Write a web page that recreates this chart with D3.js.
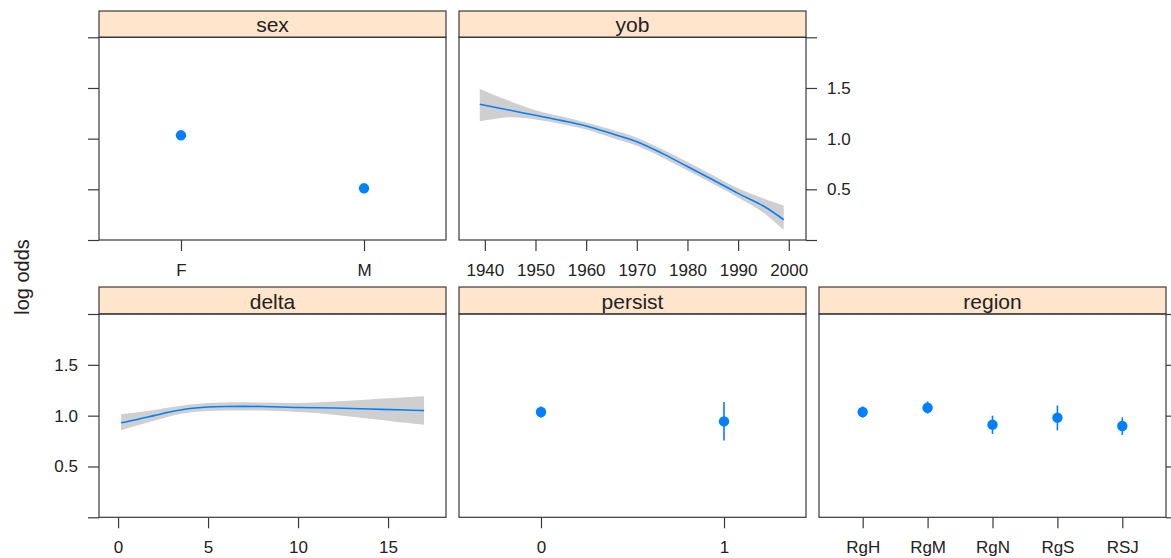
<!DOCTYPE html>
<html>
<head>
<meta charset="utf-8">
<script src="https://cdn.jsdelivr.net/npm/d3@7"></script>
<style>
  body { margin: 0; background: #fff; }
  text { font-family: "Liberation Sans", Arial, sans-serif; fill: #222; }
</style>
</head>
<body>
<svg id="chart" width="1171" height="558"></svg>
<script>
/******************************** DATA ********************************/
const yTicks = [0, 0.5, 1, 1.5, 2]
const yLabelled = [0.5, 1, 1.5]

const sexLevels = ['F', 'M']
const sexFit = [1.033, 0.51]
const sexLower = [1.00, 0.48]
const sexUpper = [1.065, 0.54]

const yobYears = [1939, 1945, 1950, 1955, 1960, 1965, 1970, 1975, 1980, 1985, 1990, 1995, 1999]
const yobFit = [1.34, 1.28, 1.23, 1.18, 1.125, 1.05, 0.97, 0.855, 0.725, 0.595, 0.46, 0.335, 0.20]
const yobLower = [1.17, 1.21, 1.19, 1.145, 1.09, 1.01, 0.93, 0.815, 0.685, 0.555, 0.42, 0.27, 0.10]
const yobUpper = [1.49, 1.37, 1.28, 1.22, 1.16, 1.09, 1.01, 0.895, 0.77, 0.64, 0.51, 0.41, 0.34]
const yobTicks = [1940, 1950, 1960, 1970, 1980, 1990, 2000]

const deltaX = [0.17, 1, 2, 3, 4, 5, 6, 8, 10, 12, 14, 16, 17]
const deltaFit = [0.93, 0.96, 1.00, 1.04, 1.07, 1.085, 1.09, 1.09, 1.08, 1.075, 1.065, 1.055, 1.05]
const deltaLower = [0.855, 0.90, 0.95, 1.00, 1.03, 1.045, 1.05, 1.05, 1.035, 1.01, 0.97, 0.93, 0.91]
const deltaUpper = [1.015, 1.03, 1.055, 1.085, 1.11, 1.125, 1.13, 1.13, 1.125, 1.14, 1.16, 1.18, 1.19]
const deltaTicks = [0, 5, 10, 15]

const persistLevels = ['0', '1']
const persistFit = [1.036, 0.943]
const persistLower = [0.98, 0.756]
const persistUpper = [1.09, 1.135]

const regionLevels = ['RgH', 'RgM', 'RgN', 'RgS', 'RSJ']
const regionFit = [1.036, 1.078, 0.911, 0.98, 0.898]
const regionLower = [0.98, 1.02, 0.82, 0.855, 0.81]
const regionUpper = [1.09, 1.14, 1.00, 1.10, 0.983]

/******************************** LAYOUT ********************************/
const cols = [[99, 446], [459, 806], [819, 1166]]
const rows = [
  { strip: 11, top: 37.3, bottom: 240 },
  { strip: 287, top: 314, bottom: 517.3 }
]
const tickLen = 11
const blue = '#0080ff'
const band = '#cfcfcf'
const frame = '#3a3a3a'

const svg = d3.select('#chart')

/**
 * Zips parallel arrays into rows for the line and area generators.
 */
function zipRows (xs, fit, lo, hi) {
  return xs.map((x, i) => ({ x: x, fit: fit[i], lo: lo[i], hi: hi[i] }))
}

/**
 * Draws one panel: strip, frame, axes, and the marks handed over in spec.
 */
function drawPanel (spec) {
  const [x0, x1] = cols[spec.col]
  const r = rows[spec.row]
  const y = d3.scaleLinear().domain([0, 2]).range([r.bottom, r.top])
  const g = svg.append('g').attr('class', 'panel')

  // strip
  g.append('rect')
    .attr('x', x0).attr('y', r.strip)
    .attr('width', x1 - x0).attr('height', r.top - r.strip)
    .attr('fill', '#ffe5cc').attr('stroke', frame).attr('stroke-width', 1.2)
  g.append('text')
    .attr('x', (x0 + x1) / 2).attr('y', r.top - 5)
    .attr('text-anchor', 'middle').attr('font-size', 21)
    .text(spec.title)

  // marks
  spec.draw(g, y, x0, x1)

  // frame
  g.append('rect')
    .attr('x', x0).attr('y', r.top)
    .attr('width', x1 - x0).attr('height', r.bottom - r.top)
    .attr('fill', 'none').attr('stroke', frame).attr('stroke-width', 1.2)

  // x axis
  const xAxis = d3.axisBottom(spec.x).tickValues(spec.xTicks).tickSize(tickLen).tickPadding(13)
  if (spec.xFormat) xAxis.tickFormat(spec.xFormat)
  const xa = g.append('g').attr('transform', 'translate(0,' + r.bottom + ')').call(xAxis)
  styleAxis(xa)

  // y axes
  const yFmt = mode => d => mode === 'labels' && yLabelled.includes(d) ? d3.format('.1f')(d) : ''
  if (spec.left) {
    const la = g.append('g').attr('transform', 'translate(' + x0 + ',0)')
      .call(d3.axisLeft(y).tickValues(yTicks).tickSize(tickLen).tickPadding(10).tickFormat(yFmt(spec.left)))
    styleAxis(la)
  }
  if (spec.right) {
    const ra = g.append('g').attr('transform', 'translate(' + x1 + ',0)')
      .call(d3.axisRight(y).tickValues(yTicks).tickSize(tickLen).tickPadding(10).tickFormat(yFmt(spec.right)))
    styleAxis(ra)
  }
}

function styleAxis (axis) {
  axis.select('.domain').remove()
  axis.selectAll('line').attr('stroke', frame).attr('stroke-width', 1.2)
  axis.selectAll('text').attr('font-size', 17).attr('fill', '#222')
    .attr('font-family', '"Liberation Sans", Arial, sans-serif')
}

function drawSmooth (g, x, y, data) {
  g.append('path').datum(data)
    .attr('fill', band)
    .attr('d', d3.area().x(d => x(d.x)).y0(d => y(d.lo)).y1(d => y(d.hi)).curve(d3.curveCatmullRom))
  g.append('path').datum(data)
    .attr('fill', 'none').attr('stroke', blue).attr('stroke-width', 1.6)
    .attr('d', d3.line().x(d => x(d.x)).y(d => y(d.fit)).curve(d3.curveCatmullRom))
}

function drawPoints (g, x, y, levels, fit, lo, hi) {
  const data = levels.map((l, i) => ({ l: l, fit: fit[i], lo: lo[i], hi: hi[i] }))
  g.selectAll('.ci').data(data).enter().append('line')
    .attr('x1', d => x(d.l)).attr('x2', d => x(d.l))
    .attr('y1', d => y(d.lo)).attr('y2', d => y(d.hi))
    .attr('stroke', blue).attr('stroke-width', 1.6)
  g.selectAll('.pt').data(data).enter().append('circle')
    .attr('cx', d => x(d.l)).attr('cy', d => y(d.fit)).attr('r', 5.2)
    .attr('fill', blue)
}

/******************************** PANELS ********************************/
const xSex = d3.scalePoint().domain(sexLevels).range(cols[0]).padding(0.448)
drawPanel({
  title: 'sex', col: 0, row: 0, left: 'ticks', x: xSex, xTicks: sexLevels,
  draw: (g, y) => drawPoints(g, xSex, y, sexLevels, sexFit, sexLower, sexUpper)
})

const xYob = d3.scaleLinear().domain([1934.9, 2003.4]).range(cols[1])
drawPanel({
  title: 'yob', col: 1, row: 0, right: 'labels', x: xYob, xTicks: yobTicks, xFormat: d3.format('d'),
  draw: (g, y) => drawSmooth(g, xYob, y, zipRows(yobYears, yobFit, yobLower, yobUpper))
})

const xDelta = d3.scaleLinear().domain([-1.06, 18.22]).range(cols[0])
drawPanel({
  title: 'delta', col: 0, row: 1, left: 'labels', x: xDelta, xTicks: deltaTicks,
  draw: (g, y) => drawSmooth(g, xDelta, y, zipRows(deltaX, deltaFit, deltaLower, deltaUpper))
})

const xPersist = d3.scalePoint().domain(persistLevels).range(cols[1]).padding(0.448)
drawPanel({
  title: 'persist', col: 1, row: 1, x: xPersist, xTicks: persistLevels,
  draw: (g, y) => drawPoints(g, xPersist, y, persistLevels, persistFit, persistLower, persistUpper)
})

const xRegion = d3.scalePoint().domain(regionLevels).range(cols[2]).padding(0.673)
drawPanel({
  title: 'region', col: 2, row: 1, right: 'ticks', x: xRegion, xTicks: regionLevels,
  draw: (g, y) => drawPoints(g, xRegion, y, regionLevels, regionFit, regionLower, regionUpper)
})

// y axis title
svg.append('text')
  .attr('transform', 'translate(28.5,277) rotate(-90)')
  .attr('text-anchor', 'middle').attr('font-size', 20)
  .text('log odds')
</script>
</body>
</html>
